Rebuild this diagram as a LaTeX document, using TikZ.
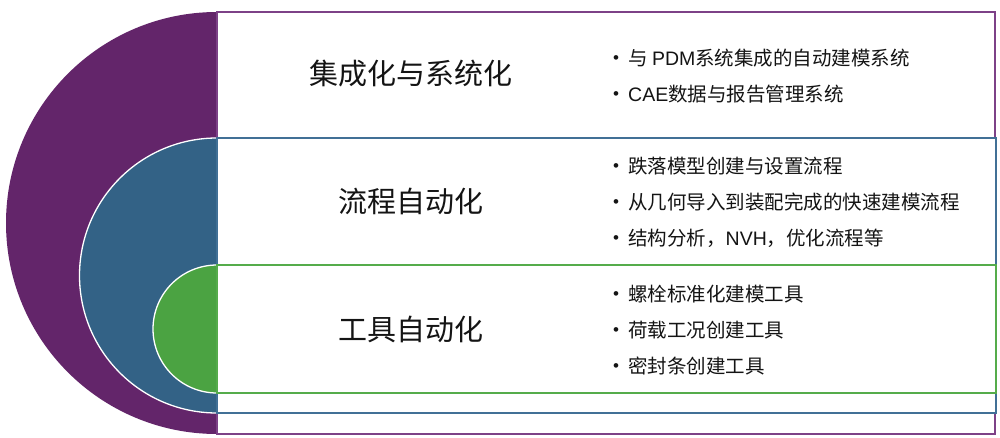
\documentclass[tikz,border=0pt]{standalone}
\usepackage{fontspec}
\setmainfont{Noto Sans CJK SC}
\newfontfamily\latf{Liberation Sans}
\definecolor{cpurple}{RGB}{99,37,106}
\definecolor{cblue}{RGB}{51,98,134}
\definecolor{cgreen}{RGB}{75,163,66}
\definecolor{bpurple}{RGB}{125,65,135}
\definecolor{bblue}{RGB}{65,112,150}
\definecolor{bgreen}{RGB}{85,172,75}
\definecolor{txt}{RGB}{20,20,20}
\begin{document}
\begin{tikzpicture}[x=1pt,y=1pt,
  halfdisc/.style={line width=1.3pt,draw=white},
  band/.style={fill=white,line width=1.4pt},
  title/.style={font=\fontsize{29}{32}\selectfont,text=txt,inner sep=0pt},
  item/.style={font=\fontsize{19.5}{22}\selectfont,text=txt,anchor=west,inner sep=0pt},
  dot/.style={font=\latf\fontsize{17}{18}\selectfont,text=txt,inner sep=0pt}]
\useasboundingbox (0,0) rectangle (1000,437);
% purple level
\fill[cpurple] (217,425) arc[start angle=90,end angle=270,radius=211] -- cycle;
\draw[band,draw=bpurple] (217,3) rectangle (995,425);
% blue level
\fill[cblue] (217,299) arc[start angle=90,end angle=270,radius=137.5] -- cycle;
\draw[halfdisc] (217,299) arc[start angle=90,end angle=270,radius=137.5];
\draw[band,draw=bblue] (217,24) rectangle (996,299);
% green level
\fill[cgreen] (217,172) arc[start angle=90,end angle=270,radius=64] -- cycle;
\draw[halfdisc] (217,172) arc[start angle=90,end angle=270,radius=64];
\draw[band,draw=bgreen] (217,44) rectangle (996,172);
% titles
\node[title] (t1) at (411,363) {集成化与系统化};
\node[title] (t2) at (411,236) {流程自动化};
\node[title] (t3) at (411,108) {工具自动化};
% bullets
\foreach \n/\y in {a/379,b/343,c/271,d/235,e/199,f/143,g/107,h/71}
  \node[dot] (d\n) at (616,\y-2) {•};
\node[item] (ia) at (628,379) {与 {\latf PDM}系统集成的自动建模系统};
\node[item] (ib) at (628,343) {{\latf CAE}数据与报告管理系统};
\node[item] (ic) at (628,271) {跌落模型创建与设置流程};
\node[item] (id) at (628,235) {从几何导入到装配完成的快速建模流程};
\node[item] (ie) at (628,199) {结构分析，{\latf NVH}，优化流程等};
\node[item] (if) at (628,143) {螺栓标准化建模工具};
\node[item] (ig) at (628,107) {荷载工况创建工具};
\node[item] (ih) at (628,71) {密封条创建工具};
\end{tikzpicture}
\end{document}
